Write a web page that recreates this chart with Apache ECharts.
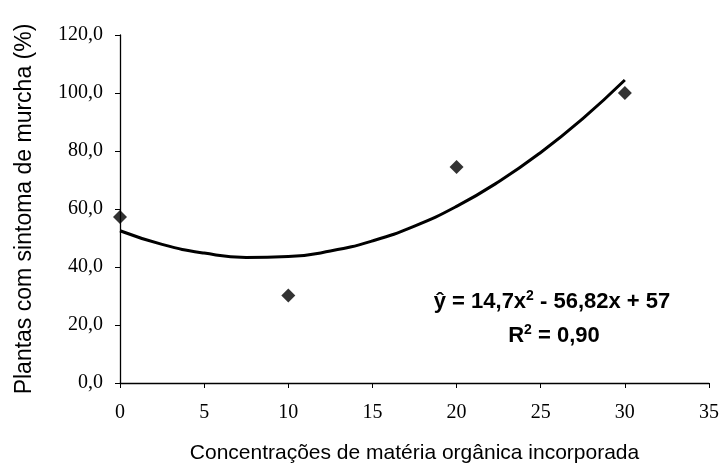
<!DOCTYPE html>
<html><head><meta charset="utf-8">
<script src="https://cdn.jsdelivr.net/npm/echarts@6/dist/echarts.min.js"></script>
<style>html,body{margin:0;padding:0;background:#fff}#c{width:722px;height:465px}</style>
</head><body><div id="c"></div>
<script>
// observed data points
const obsX = [0, 10, 20, 30];
const obsY = [57.2, 30.2, 74.5, 100.0];
// trend curve
const curveX = [0, 2.5, 5, 7.5, 10, 12.5, 15, 17.5, 20, 22.5, 25, 27.5, 30];
const curveY = [52.5, 47.8, 44.8, 43.3, 43.6, 45.5, 49.0, 54.1, 60.9, 69.4, 79.5, 91.2, 104.5];
const xTitle = 'Concentrações de matéria orgânica incorporada';
const yTitle = 'Plantas com sintoma de murcha (%)';
const eqLine1 = 'ŷ = 14,7x{s|2} - 56,82x + 57';
const eqLine2 = 'R{s|2} = 0,90';

const chart = echarts.init(document.getElementById('c'));
const serif = 'Liberation Serif';
const sans = 'Liberation Sans';
const richSup = {s: {fontFamily: sans, fontWeight: 'bold', fontSize: 14, verticalAlign: 'top', padding: [0,0,11,0]}};
chart.setOption({
  animation: false,
  backgroundColor: '#fff',
  grid: {left: 120, right: 13, top: 35, bottom: 82, containLabel: false, outerBoundsMode: 'none'},
  xAxis: {
    type: 'value', min: 0, max: 35, interval: 5,
    name: xTitle, nameLocation: 'middle', nameGap: 60,
    nameTextStyle: {fontFamily: sans, fontSize: 21, color: '#000'},
    axisLine: {lineStyle: {color: '#000', width: 1.3}},
    axisTick: {show: true, length: 5, lineStyle: {color: '#000'}},
    axisLabel: {fontFamily: serif, fontSize: 20, color: '#000', margin: 20},
    splitLine: {show: false}
  },
  yAxis: {
    type: 'value', min: 0, max: 120, interval: 20,
    name: yTitle, nameLocation: 'middle', nameGap: 84,
    nameTextStyle: {fontFamily: sans, fontSize: 23, color: '#000'},
    axisLine: {show: true, lineStyle: {color: '#000', width: 1.3}},
    axisTick: {show: true, length: 5, lineStyle: {color: '#000'}},
    axisLabel: {fontFamily: serif, fontSize: 20, color: '#000', margin: 17,
      formatter: v => v.toFixed(1).replace('.', ',')},
    splitLine: {show: false}
  },
  series: [
    {type: 'line', data: curveX.map((x, i) => [x, curveY[i]]), smooth: true,
     showSymbol: false, lineStyle: {color: '#000', width: 3}, z: 2},
    {type: 'scatter', data: obsX.map((x, i) => [x, obsY[i]]), symbol: 'diamond',
     symbolSize: 14, itemStyle: {color: '#000'}, z: 3}
  ],
  graphic: [
    {type: 'text', x: 552, y: 302, style: {text: eqLine1, align: 'center', verticalAlign: 'middle',
      fontFamily: sans, fontWeight: 'bold', fontSize: 22, fill: '#000', rich: richSup}},
    {type: 'text', x: 554, y: 336, style: {text: eqLine2, align: 'center', verticalAlign: 'middle',
      fontFamily: sans, fontWeight: 'bold', fontSize: 22, fill: '#000', rich: richSup}}
  ]
});
</script></body></html>
